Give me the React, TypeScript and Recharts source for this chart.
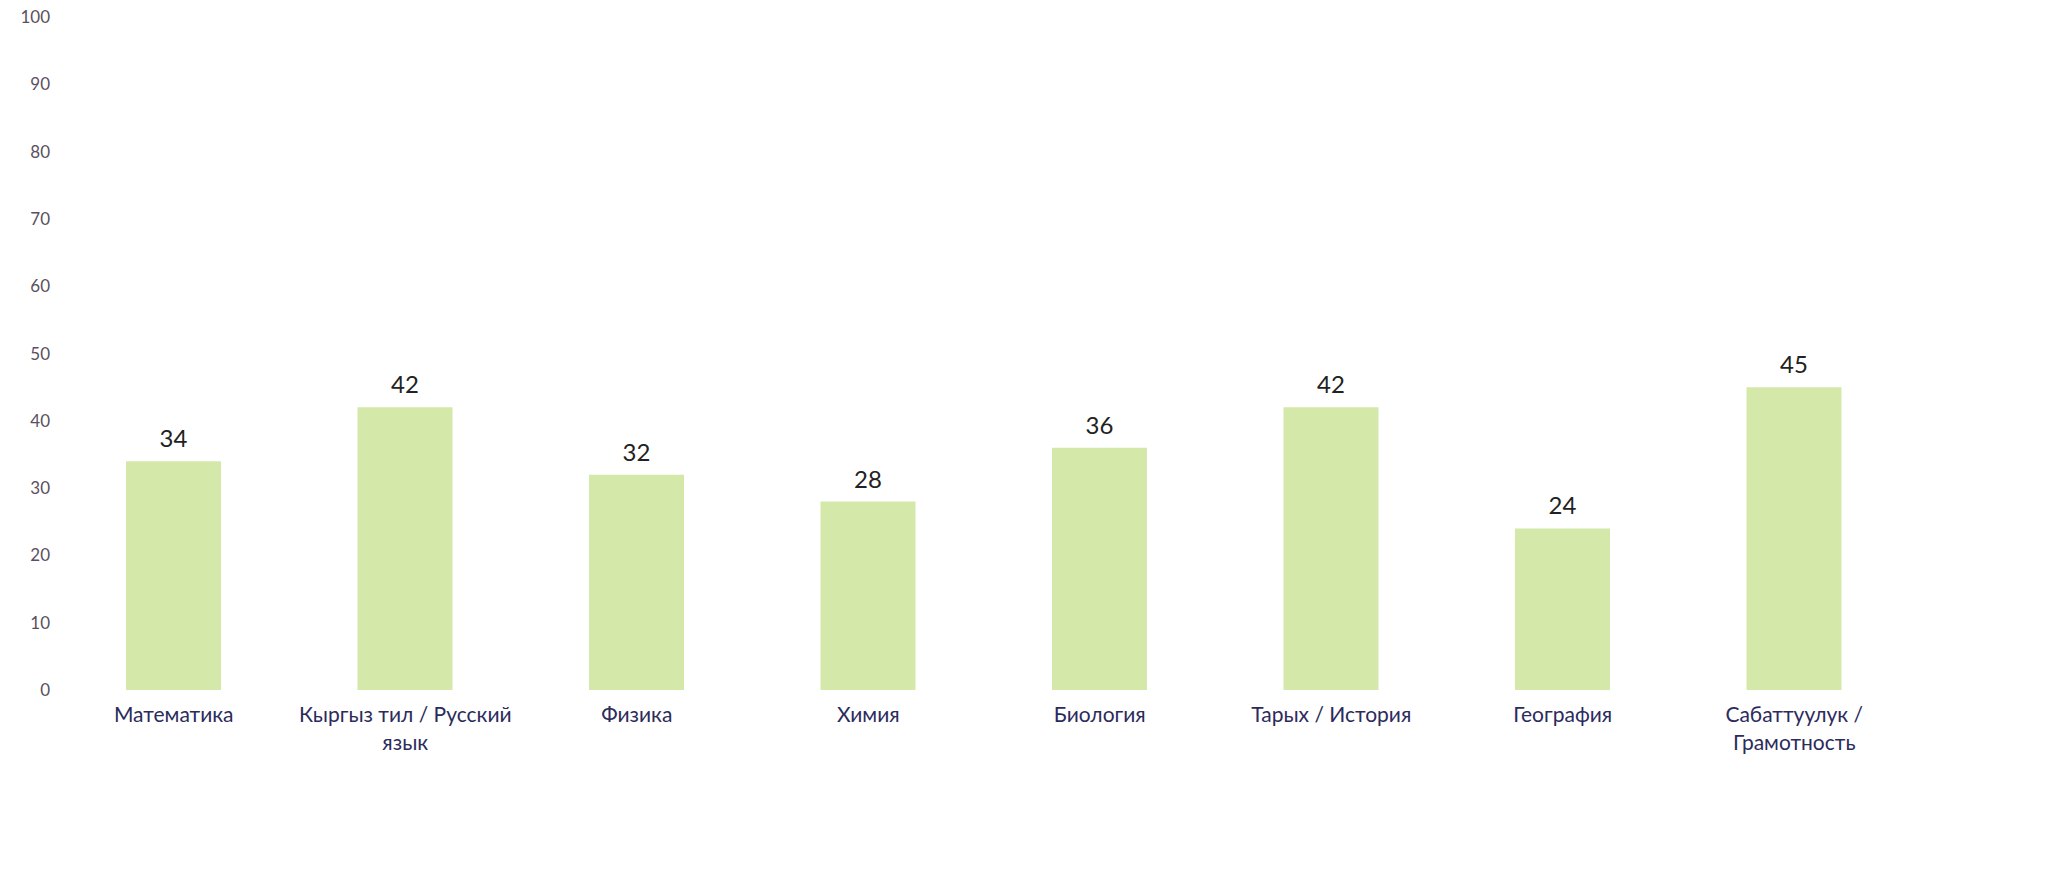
import React from 'react';
import { BarChart, Bar, XAxis, YAxis, LabelList } from 'recharts';

const subjects: string[] = [
  'Математика',
  'Кыргыз тил / Русский язык',
  'Физика',
  'Химия',
  'Биология',
  'Тарых / История',
  'География',
  'Сабаттуулук / Грамотность',
];
const scores: number[] = [34, 42, 32, 28, 36, 42, 24, 45];
const yTicks: number[] = [0, 10, 20, 30, 40, 50, 60, 70, 80, 90, 100];

const data = subjects.map((s, i) => ({ subject: s, score: scores[i] }));

const FONT = 'Lato, "Open Sans", "Liberation Sans", sans-serif';

function wrap(text: string, max: number): string[] {
  const words = text.split(' ');
  const lines: string[] = [];
  let cur = '';
  for (const w of words) {
    const next = cur ? cur + ' ' + w : w;
    if (next.length > max && cur) {
      lines.push(cur);
      cur = w;
    } else {
      cur = next;
    }
  }
  if (cur) lines.push(cur);
  return lines;
}

const CategoryTick = (props: any) => {
  const { x, y, payload } = props;
  const lines = wrap(String(payload.value), 20);
  return (
    <text x={x} y={y} textAnchor="middle" fill="#2b2b5c" fontSize={21} fontFamily={FONT}>
      {lines.map((l, i) => (
        <tspan key={i} x={x} dy={i === 0 ? 24 : 28}>
          {l}
        </tspan>
      ))}
    </text>
  );
};

export default function App() {
  return (
    <div style={{ position: 'absolute', left: 0, top: 0, width: 2067, height: 885, background: '#ffffff' }}>
      <BarChart
        width={2067}
        height={885}
        data={data}
        margin={{ top: 17, right: 157, bottom: 110, left: 0 }}
        barCategoryGap="30%"
      >
        <XAxis
          dataKey="subject"
          axisLine={false}
          tickLine={false}
          interval={0}
          height={85}
          tick={<CategoryTick />}
        />
        <YAxis
          domain={[0, 100]}
          ticks={yTicks}
          axisLine={false}
          tickLine={false}
          width={58}
          tick={{ fill: '#5a5060', fontSize: 17, fontFamily: FONT }}
        />
        <Bar dataKey="score" fill="#d4e9a9" barSize={95} isAnimationActive={false}>
          <LabelList
            dataKey="score"
            position="top"
            offset={14}
            fill="#222222"
            fontSize={24}
            fontFamily={FONT}
          />
        </Bar>
      </BarChart>
    </div>
  );
}
